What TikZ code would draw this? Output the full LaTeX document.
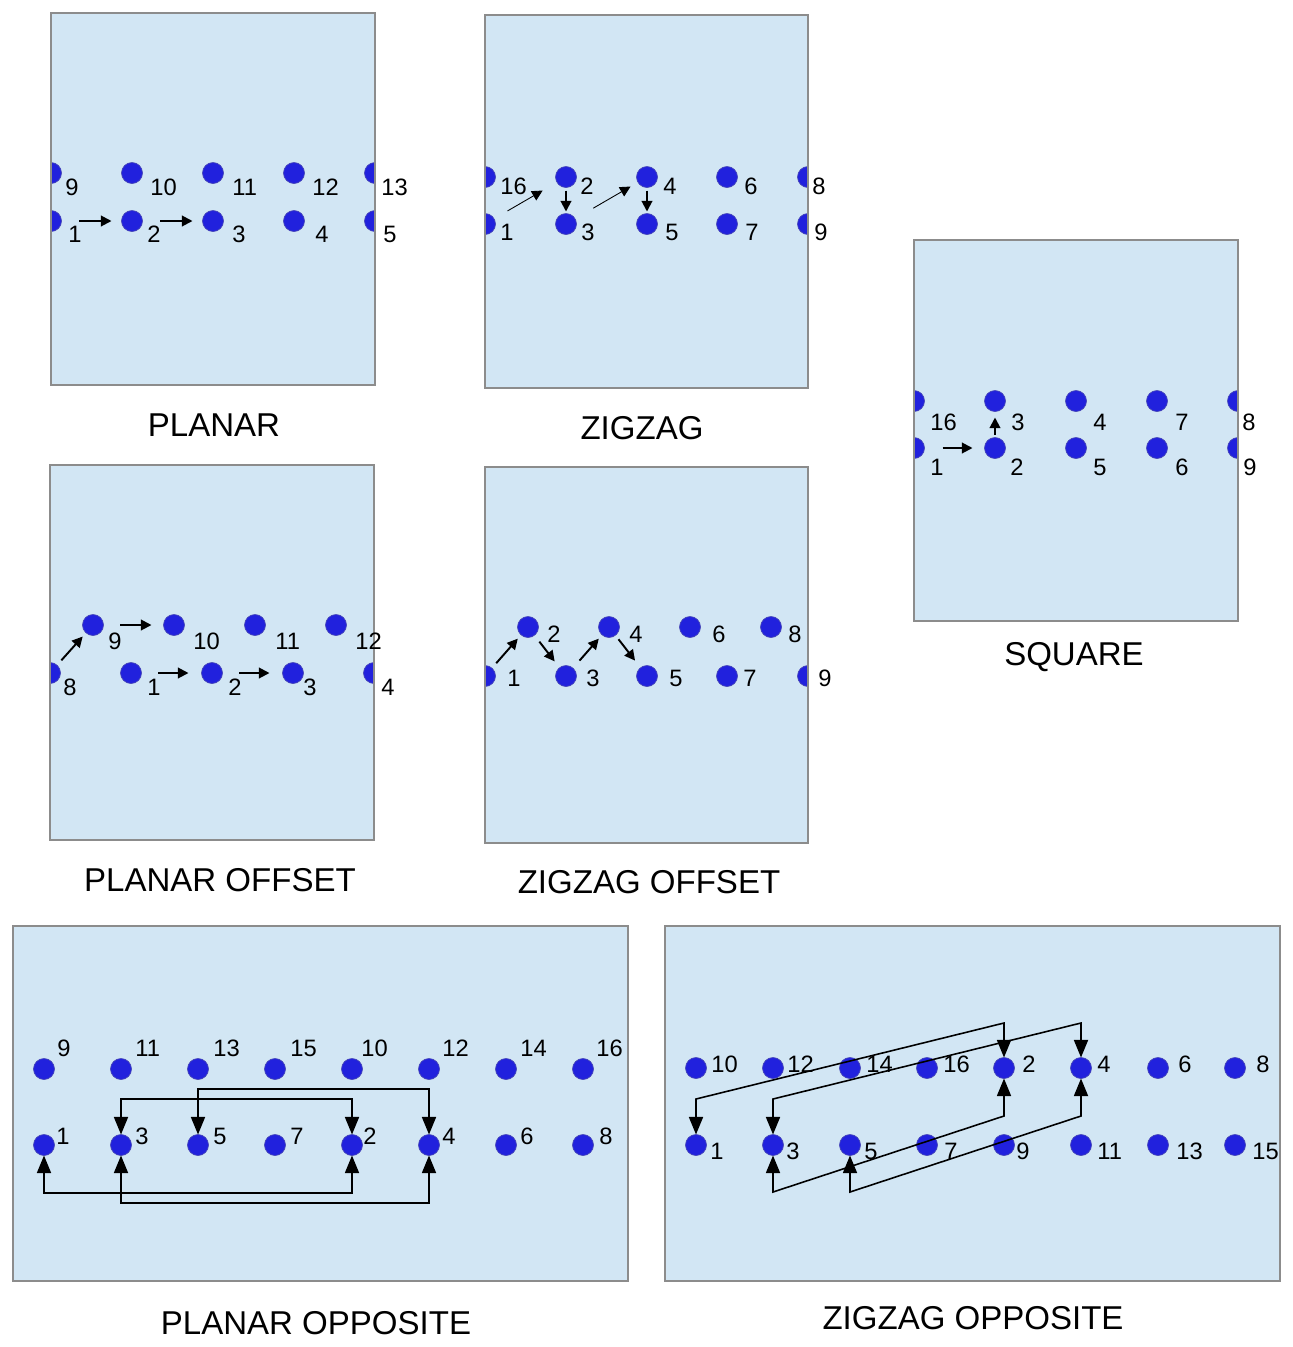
\documentclass[tikz,border=0pt]{standalone}
\usepackage{fontspec}
\setmainfont{Liberation Sans}
\usetikzlibrary{arrows.meta}
\definecolor{panelblue}{HTML}{D2E6F4}
\definecolor{panelgray}{HTML}{8C8C8C}
\definecolor{dotblue}{HTML}{2121DD}

\begin{document}
\begin{tikzpicture}[
    x=0.02cm, y=-0.02cm,
    >={Triangle[length=6pt,width=6pt]},
    frame/.style={draw=panelgray, line width=0.8pt},
    hole/.style={circle, fill=dotblue, draw=dotblue!60!gray, line width=0.4pt,
                 minimum size=0.42cm, inner sep=0pt, outer sep=0pt},
    num/.style={anchor=west, inner sep=0pt, font=\fontsize{13.5}{15}\selectfont},
    caption/.style={font=\fontsize{18.8}{23}\selectfont},
    flow/.style={->, line width=1.1pt},
    thinflow/.style={->, line width=0.5pt},
    link/.style={{Triangle[length=10pt,width=8pt]}-{Triangle[length=10pt,width=8pt]}, line width=0.9pt}
]
    \useasboundingbox (0,0) rectangle (1293,1347);

    % === PLANAR ===
    \fill[panelblue] (51,13) rectangle (375,385);
    \begin{scope}
        \clip (51,13) rectangle (375,385);
        \foreach \x/\n in {51/9, 132/10, 213/11, 294/12, 375/13}
            \node[hole] (pl\n) at (\x,173) {};
        \foreach \x/\n in {51/1, 132/2, 213/3, 294/4, 375/5}
            \node[hole] (pl\n) at (\x,221) {};
    \end{scope}
    \draw[frame] (51,13) rectangle (375,385);
    \foreach \x/\n in {65/9, 150/10, 232/11, 312/12, 381/13}
        \node[num] (pltxt\n) at (\x,187) {\n};
    \foreach \x/\n in {68/1, 147/2, 232/3, 315/4, 383/5}
        \node[num] (pltxt\n) at (\x,234) {\n};
    \draw[flow, shorten <=0.36cm, shorten >=0.2cm] (pl1) -- (pl2);
    \draw[flow, shorten <=0.36cm, shorten >=0.2cm] (pl2) -- (pl3);
    \node[caption] (capplanar) at (214,425) {PLANAR};

    % === ZIGZAG ===
    \fill[panelblue] (485,15) rectangle (808,388);
    \begin{scope}
        \clip (485,15) rectangle (808,388);
        \foreach \x/\n in {485/16, 566/2, 647/4, 727/6, 808/8}
            \node[hole] (zz\n) at (\x,177) {};
        \foreach \x/\n in {485/1, 566/3, 647/5, 727/7, 808/9}
            \node[hole] (zz\n) at (\x,224) {};
    \end{scope}
    \draw[frame] (485,15) rectangle (808,388);
    \foreach \x/\n in {500/16, 580/2, 663/4, 744/6, 812/8}
        \node[num] (zztxt\n) at (\x,186) {\n};
    \foreach \x/\n in {500/1, 581/3, 665/5, 745/7, 814/9}
        \node[num] (zztxt\n) at (\x,232) {\n};
    \draw[thinflow, shorten <=0.31cm, shorten >=0.33cm] (zz1) -- (zz2);
    \draw[flow, shorten <=0.06cm, shorten >=0.04cm] (zz2) -- (zz3);
    \draw[thinflow, shorten <=0.42cm, shorten >=0.17cm] (zz3) -- (zz4);
    \draw[flow, shorten <=0.06cm, shorten >=0.04cm] (zz4) -- (zz5);
    \node[caption] (capzigzag) at (642,428) {ZIGZAG};

    % === SQUARE ===
    \fill[panelblue] (914,240) rectangle (1238,621);
    \begin{scope}
        \clip (914,240) rectangle (1238,621);
        \foreach \x/\n in {914/16, 995/3, 1076/4, 1157/7, 1238/8}
            \node[hole] (sq\n) at (\x,401) {};
        \foreach \x/\n in {914/1, 995/2, 1076/5, 1157/6, 1238/9}
            \node[hole] (sq\n) at (\x,448) {};
    \end{scope}
    \draw[frame] (914,240) rectangle (1238,621);
    \foreach \x/\n in {930/16, 1011/3, 1093/4, 1175/7, 1242/8}
        \node[num] (sqtxt\n) at (\x,422) {\n};
    \foreach \x/\n in {930/1, 1010/2, 1093/5, 1175/6, 1243/9}
        \node[num] (sqtxt\n) at (\x,467) {\n};
    \draw[flow, shorten <=0.36cm, shorten >=0.24cm] (sq1) -- (sq2);
    \draw[flow, shorten <=0.06cm, shorten >=0.12cm] (sq2) -- (sq3);
    \node[caption] (capsquare) at (1074,657) {SQUARE};

    % === PLANAR OFFSET ===
    \fill[panelblue] (50,465) rectangle (374,840);
    \begin{scope}
        \clip (50,465) rectangle (374,840);
        \foreach \x/\n in {93/9, 174/10, 255/11, 336/12}
            \node[hole] (po\n) at (\x,625) {};
        \foreach \x/\n in {50/8, 131/1, 212/2, 293/3, 374/4}
            \node[hole] (po\n) at (\x,673) {};
    \end{scope}
    \draw[frame] (50,465) rectangle (374,840);
    \foreach \x/\n in {108/9, 193/10, 275/11, 355/12}
        \node[num] (potxt\n) at (\x,641) {\n};
    \foreach \x/\n in {63/8, 147/1, 228/2, 303/3, 381/4}
        \node[num] (potxt\n) at (\x,687) {\n};
    \draw[flow, shorten <=0.13cm, shorten >=0.1cm] (po8) -- (po9);
    \draw[flow, shorten <=0.34cm, shorten >=0.24cm] (po9) -- (po10);
    \draw[flow, shorten <=0.34cm, shorten >=0.26cm] (po1) -- (po2);
    \draw[flow, shorten <=0.34cm, shorten >=0.26cm] (po2) -- (po3);
    \node[caption] (capplanaroff) at (220,880) {PLANAR OFFSET};

    % === ZIGZAG OFFSET ===
    \fill[panelblue] (485,467) rectangle (808,843);
    \begin{scope}
        \clip (485,467) rectangle (808,843);
        \foreach \x/\n in {528/2, 609/4, 690/6, 771/8}
            \node[hole] (zo\n) at (\x,627) {};
        \foreach \x/\n in {485/1, 566/3, 647/5, 727/7, 808/9}
            \node[hole] (zo\n) at (\x,676) {};
    \end{scope}
    \draw[frame] (485,467) rectangle (808,843);
    \foreach \x/\n in {547/2, 629/4, 712/6, 788/8}
        \node[num] (zotxt\n) at (\x,634) {\n};
    \foreach \x/\n in {507/1, 586/3, 669/5, 743/7, 818/9}
        \node[num] (zotxt\n) at (\x,678) {\n};
    \draw[flow, shorten <=0.13cm, shorten >=0.1cm] (zo1) -- (zo2);
    \draw[flow, shorten <=0.16cm, shorten >=0.16cm] (zo2) -- (zo3);
    \draw[flow, shorten <=0.2cm, shorten >=0.1cm] (zo3) -- (zo4);
    \draw[flow, shorten <=0.1cm, shorten >=0.18cm] (zo4) -- (zo5);
    \node[caption] (capzigzagoff) at (649,882) {ZIGZAG OFFSET};

    % === PLANAR OPPOSITE ===
    \fill[panelblue] (13,926) rectangle (628,1281);
    \draw[frame] (13,926) rectangle (628,1281);
    \foreach \x/\n/\lx in {44/9/57, 121/11/135, 198/13/213, 275/15/290,
                           352/10/361, 429/12/442, 506/14/520, 583/16/596} {
        \node[hole] (pp\n) at (\x,1069) {};
        \node[num] (pptxt\n) at (\lx,1048) {\n};
    }
    \foreach \x/\n/\lx in {44/1/56, 121/3/135, 198/5/213, 275/7/290,
                           352/2/363, 429/4/442, 506/6/520, 583/8/599} {
        \node[hole] (pp\n) at (\x,1145) {};
        \node[num] (pptxt\n) at (\lx,1136) {\n};
    }
    \coordinate (ppA) at (0,1089);
    \coordinate (ppB) at (0,1099);
    \coordinate (ppC) at (0,1193);
    \coordinate (ppD) at (0,1203);
    \draw[link] (pp5) -- (pp5 |- ppA) -| (pp4);
    \draw[link] (pp3) -- (pp3 |- ppB) -| (pp2);
    \draw[link] (pp1) -- (pp1 |- ppC) -| (pp2);
    \draw[link] (pp3) -- (pp3 |- ppD) -| (pp4);
    \node[caption] (capplanaropp) at (316,1323) {PLANAR OPPOSITE};

    % === ZIGZAG OPPOSITE ===
    \fill[panelblue] (665,926) rectangle (1280,1281);
    \draw[frame] (665,926) rectangle (1280,1281);
    \foreach \x/\n/\lx in {696/10/711, 773/12/787, 850/14/866, 927/16/943,
                           1004/2/1022, 1081/4/1097, 1158/6/1178, 1235/8/1256} {
        \node[hole] (zp\n) at (\x,1068) {};
        \node[num] (zptxt\n) at (\lx,1064) {\n};
    }
    \foreach \x/\n/\lx in {696/1/710, 773/3/786, 850/5/864, 927/7/944,
                           1004/9/1016, 1081/11/1097, 1158/13/1176, 1235/15/1252} {
        \node[hole] (zp\n) at (\x,1145) {};
        \node[num] (zptxt\n) at (\lx,1151) {\n};
    }
    \coordinate (zpA) at (0,1099);
    \coordinate (zpB) at (0,1023);
    \coordinate (zpC) at (0,1192);
    \coordinate (zpD) at (0,1116);
    \draw[link] (zp1) -- (zp1 |- zpA) -- (zp2 |- zpB) -- (zp2);
    \draw[link] (zp3) -- (zp3 |- zpA) -- (zp4 |- zpB) -- (zp4);
    \draw[link] (zp3) -- (zp3 |- zpC) -- (zp2 |- zpD) -- (zp2);
    \draw[link] (zp5) -- (zp5 |- zpC) -- (zp4 |- zpD) -- (zp4);
    \node[caption] (capzigzagopp) at (973,1318) {ZIGZAG OPPOSITE};
\end{tikzpicture}
\end{document}
